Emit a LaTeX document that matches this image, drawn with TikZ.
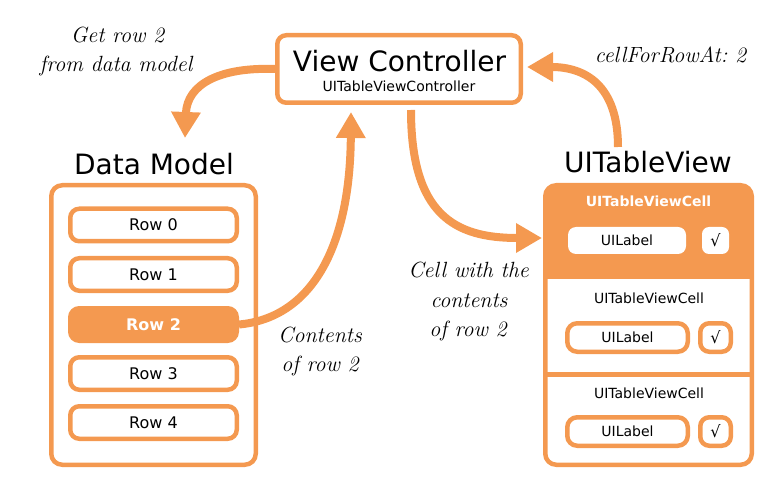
\documentclass[tikz,border=0pt]{standalone}
\usepackage{fontspec}
\newfontfamily\vsans{DejaVu Sans}
\usetikzlibrary{arrows.meta}
\definecolor{org}{RGB}{244,153,80}
\frenchspacing
\begin{document}
\begin{tikzpicture}[x=1pt,y=-1pt,
  box/.style={draw=org, line width=4.5pt, rounded corners=9pt, inner sep=0pt},
  rowbox/.style={box, minimum width=166.5pt, minimum height=32.5pt, font=\vsans\fontsize{16}{19}\selectfont},
  lblbox/.style={box, minimum width=120.5pt, minimum height=28.5pt, rounded corners=10pt, font=\vsans\fontsize{14}{17}\selectfont},
  chkbox/.style={box, minimum width=30.5pt, minimum height=28.5pt, font=\vsans\fontsize{16}{19}\selectfont},
  flow/.style={draw=org, line width=8pt, -{Triangle[width=28pt,length=26pt]}},
  note/.style={font=\fontsize{22}{26}\selectfont\itshape, anchor=base, inner sep=0pt},
  title/.style={font=\vsans\fontsize{28}{33}\selectfont, anchor=base, inner sep=0pt},
  small/.style={font=\vsans\fontsize{14}{17}\selectfont, anchor=base, inner sep=0pt},
]
\useasboundingbox (0,0) rectangle (776,478);

% View controller
\node[box, minimum width=243.5pt, minimum height=67.5pt] (vc) at (399,69) {};
\node[title] (vct) at (399.5,72) {View Controller};
\node[small] (vcs) at (399,92) {UITableViewController};

% Data model
\node[title] (dmt) at (154,175) {Data Model};
\node[box, minimum width=204.5pt, minimum height=279.5pt, rounded corners=11pt] (dm) at (153.5,325) {};
\node[rowbox] (r0) at (153.5,225) {Row 0};
\node[rowbox] (r1) at (153.5,274.5) {Row 1};
\node[rowbox, fill=org, text=white, font=\vsans\bfseries\fontsize{16}{19}\selectfont] (r2) at (153.5,324.5) {Row 2};
\node[rowbox] (r3) at (153.5,373.5) {Row 3};
\node[rowbox] (r4) at (153.5,422.5) {Row 4};

% Table view
\node[title] (tvt) at (648,173) {UITableView};
\fill[org] (545,279) {[rounded corners=9pt] -- (545,185) -- (752,185)} -- (752,279) -- cycle;
\node[box, minimum width=206.5pt, minimum height=279.5pt, rounded corners=11pt] (tv) at (648.5,325) {};
\draw[org, line width=4.5pt] (543,374.5) -- (754,374.5);

\node[small, text=white, font=\vsans\bfseries\fontsize{14}{17}\selectfont] (c1t) at (648.5,207) {UITableViewCell};
\node[fill=white, rounded corners=8pt, inner sep=0pt, minimum width=118pt, minimum height=27pt, font=\vsans\fontsize{14}{17}\selectfont] (l1) at (627,240.5) {UILabel};
\node[fill=white, rounded corners=7pt, inner sep=0pt, minimum width=27pt, minimum height=27pt, font=\vsans\fontsize{16}{19}\selectfont] (k1) at (715.5,240.5) {√};

\node[small] (c2t) at (649,303) {UITableViewCell};
\node[lblbox] (l2) at (627.5,337.5) {UILabel};
\node[chkbox] (k2) at (715.5,337.5) {√};

\node[small] (c3t) at (649,398) {UITableViewCell};
\node[lblbox] (l3) at (627.5,431.5) {UILabel};
\node[chkbox] (k3) at (715.5,431.5) {√};

% connectors
\coordinate (dmtip) at (185,138);
\coordinate (vctip2) at (351,112);
\coordinate (vcb) at (411,110);
\coordinate (tvtip) at (542,238);
\coordinate (tvtop) at (618,147);
\coordinate (vctip4) at (527,67);
\draw[flow] (vc.west) .. controls (220,67) and (187,84) .. (dmtip);
\draw[flow] (r2.east) .. controls (310,318) and (350,250) .. (vctip2);
\draw[flow] (vcb) .. controls (411,215) and (455,238) .. (tvtip);
\draw[flow] (tvtop) .. controls (618,85) and (585,67) .. (vctip4);

% notes
\node[note] (n1a) at (117.5,43) {Get row 2};
\node[note] (n1b) at (116,72) {from data model};
\node[note] (n2) at (670.5,63) {cellForRowAt: 2};
\node[note] (n3a) at (320,342) {Contents};
\node[note] (n3b) at (320,371) {of row 2};
\node[note] (n4a) at (468.5,277) {Cell with the};
\node[note] (n4b) at (469,307) {contents};
\node[note] (n4c) at (468,336) {of row 2};
\end{tikzpicture}
\end{document}
